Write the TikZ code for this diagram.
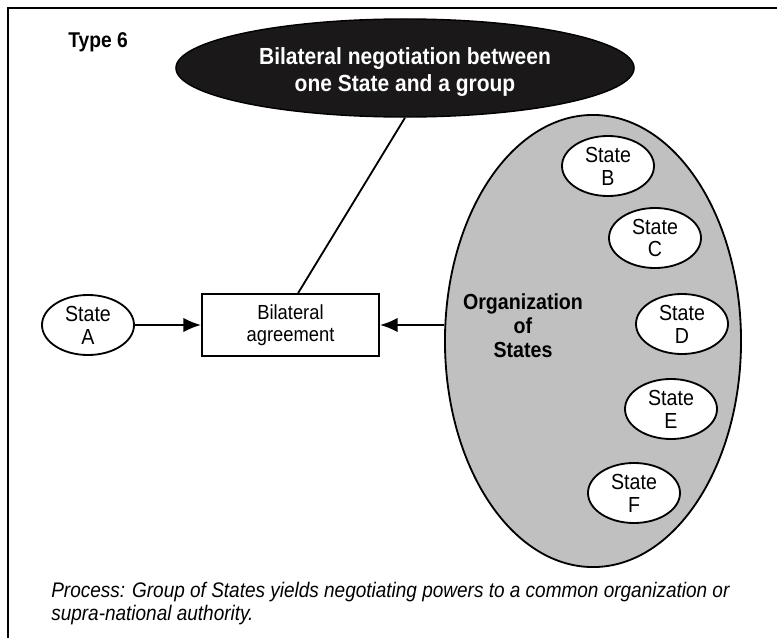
\documentclass[tikz,border=0pt]{standalone}
\usepackage{fontspec}
\setmainfont[FakeStretch=0.9]{Liberation Sans}
\usetikzlibrary{shapes,arrows,arrows.meta,positioning}
\definecolor{orggray}{RGB}{192,192,192}
\definecolor{inkblack}{RGB}{26,24,24}

\tikzset{
  state/.style={draw, ellipse, fill=white, line width=1.3pt, inner sep=0pt,
    minimum width=2.3cm, minimum height=1.5cm, align=center,
    font=\fontsize{15.5}{16.3}\selectfont},
  link/.style={-{Latex[length=4.4mm,width=3.6mm]}, line width=1.5pt}
}

\begin{document}
\begin{tikzpicture}[x=0.025cm, y=-0.025cm]
\useasboundingbox (0,0) rectangle (777,638);
\draw[line width=1.4pt] (8,638) -- (8,8) -- (777,8);

\node[anchor=base west, inner sep=0pt, font=\bfseries\fontsize{15.2}{17}\selectfont] (type) at (68,47) {Type 6};
\node[draw, ellipse, fill=inkblack, text=white, line width=1pt, inner sep=0pt, minimum width=11.45cm, minimum height=2.45cm, align=center, font=\bfseries\fontsize{16.6}{19}\selectfont] (talk) at (405,68) {\rule{0pt}{0.62cm}Bilateral negotiation between\\one State and a group};
%============
\node[draw, ellipse, fill=orggray, line width=1.3pt, minimum width=7.4cm, minimum height=11.3cm] (org) at (593,341) {};
\node[align=center, font=\bfseries\fontsize{15.5}{17}\selectfont] (orgname) at (523,326) {Organization\\of\\States};
\node[state] (sb) at (608,166) {State\\B};
\node[state] (sc) at (655,238) {State\\C};
\node[state] (sd) at (682,324) {State\\D};
\node[state] (se) at (671,409) {State\\E};
\node[state] (sf) at (634,493) {State\\F};
%============
\node[state] (sa) at (88,325) {State\\A};
\node[draw, rectangle, line width=1.3pt, minimum width=4.425cm, minimum height=1.55cm, align=center, font=\fontsize{14.5}{15.6}\selectfont] (deal) at (290.5,325) {Bilateral\\agreement};

\draw[link] (sa) -- (deal);
\draw[link] (deal -| org.west) -- (deal);
\draw[line width=1.3pt] (talk.south) -- ([xshift=0.19cm]deal.north);

\node[anchor=north west, inner sep=0pt, align=left, font=\itshape\fontsize{15}{16.5}\selectfont] (note) at (51,581.5) {Process: Group of States yields negotiating powers to a common organization or\\supra-national authority.};
\end{tikzpicture}
\end{document}
